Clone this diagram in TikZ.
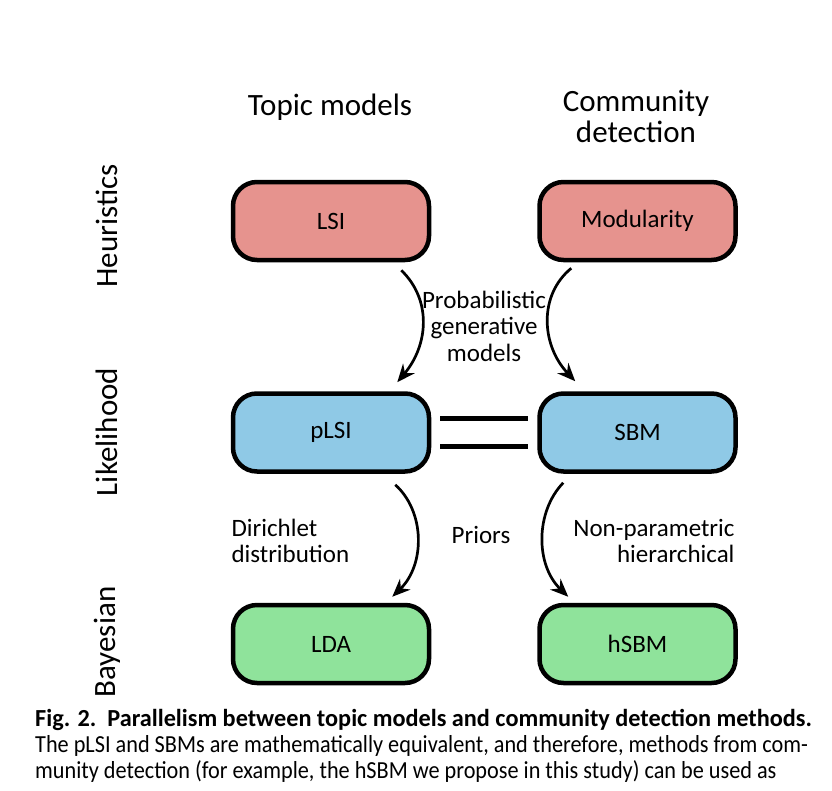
\documentclass[tikz,border=0pt]{standalone}
\usepackage{fontspec}
\setmainfont{Carlito}
\newfontfamily\capbold[FakeStretch=0.99]{Carlito}
\newfontfamily\capfont[FakeStretch=0.908]{Carlito}
\usetikzlibrary{arrows.meta,positioning,calc}
\definecolor{heurred}{HTML}{E6938E}
\definecolor{likeblue}{HTML}{8FC9E6}
\definecolor{bayesgreen}{HTML}{8FE39B}

\begin{document}
\begin{tikzpicture}[
    x=1pt, y=-1pt,
    node distance=129pt and 106pt,
    model/.style={draw=black, line width=4.5pt, rounded corners=24pt,
                  minimum width=196pt, minimum height=78pt,
                  font=\fontsize{25}{28}\selectfont},
    heurbox/.style={model, fill=heurred},
    likebox/.style={model, fill=likeblue},
    bayesbox/.style={model, fill=bayesgreen},
    head/.style={font=\fontsize{31}{31}\selectfont, align=center},
    rowlabel/.style={head, rotate=90},
    note/.style={font=\fontsize{25}{26.5}\selectfont},
    link/.style={-{Stealth[length=18pt,width=15pt,inset=6pt]}, line width=2.7pt},
    equal/.style={line width=5pt},
    caption/.style={anchor=base west, inner sep=0pt}
  ]
  \clip (0,0) rectangle (832,790);
  \node[heurbox] (lsi) at (331,221) {LSI};
  \node[heurbox, right=of lsi] (modularity) {Modularity};
  \node[likebox, below=of lsi] (plsi) {pLSI};
  \node[likebox, below=of modularity] (sbm) {SBM};
  \node[bayesbox, below=of plsi] (lda) {LDA};
  \node[bayesbox, below=of sbm] (hsbm) {hSBM};

  \node[head] (topic) at (330,107) {Topic models};
  \node[head] (community) at (636,116) {Community\\detection};
  \node[rowlabel] (heuristics) at (107,226) {Heuristics};
  \node[rowlabel] (likelihood) at (107,432) {Likelihood};
  \node[rowlabel] (bayesian) at (107,642) {Bayesian};

  \draw[link] ($(lsi.south east)+(-30,8)$) .. controls ($(lsi.south east)+(1,38)$) and ($(plsi.north east)+(-3,-46)$) .. ($(plsi.north east)+(-34,-9)$);
  \draw[link] ($(modularity.south west)+(34,6)$) .. controls ($(modularity.south west)+(1,33)$) and ($(sbm.north west)+(4,-46)$) .. ($(sbm.north west)+(38,-10)$);
  \draw[link] ($(plsi.south east)+(-36,11)$) .. controls ($(plsi.south east)+(-6,38)$) and ($(lda.north east)+(-6,-38)$) .. ($(lda.north east)+(-39,-6)$);
  \draw[link] ($(sbm.south west)+(26,9)$) .. controls ($(sbm.south west)+(-2,38)$) and ($(hsbm.north west)+(-2,-38)$) .. ($(hsbm.north west)+(31,-6)$);
  \draw[equal] ($(plsi.east)+(9,-14)$) -- ($(sbm.west)+(-9,-14)$);
  \draw[equal] ($(plsi.east)+(9,14)$) -- ($(sbm.west)+(-9,14)$);

  \node[note, align=center] (probgen) at (484,326) {Probabilistic\\generative\\models};
  \node[note, align=left, anchor=west] (dirichlet) at (228,541) {Dirichlet\\distribution};
  \node[note] (priors) at (481,535) {Priors};
  \node[note, align=right, anchor=east] (nonparam) at (738,541) {Non-parametric\\hierarchical};

  \node[caption, font=\capbold\bfseries\fontsize{24.5}{26}\selectfont] (figtitle) at (35,726)
    {Fig. 2.\ \ Parallelism between topic models and community detection methods.};
  \node[caption, font=\capfont\fontsize{24.5}{26}\selectfont] (captext) at (35,752)
    {The pLSI and SBMs are mathematically equivalent, and therefore, methods from com-};
  \node[caption, font=\capfont\fontsize{24.5}{26}\selectfont] (capmore) at (35,778)
    {munity detection (for example, the hSBM we propose in this study) can be used as};
\end{tikzpicture}
\end{document}
